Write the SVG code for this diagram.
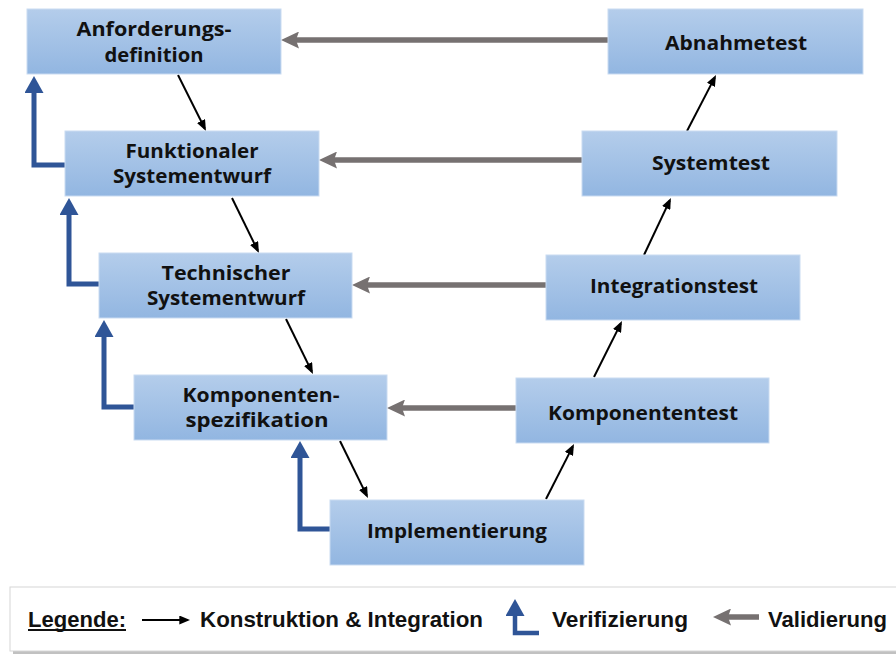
<svg xmlns="http://www.w3.org/2000/svg" width="896" height="655" viewBox="0 0 896 655">
  <defs>
    <linearGradient id="boxFill" x1="0" y1="0" x2="0" y2="1">
      <stop offset="0" stop-color="#b4cdeb"/>
      <stop offset="1" stop-color="#92b6e1"/>
    </linearGradient>
    <marker id="headBlack" viewBox="0 0 11 9" refX="8.2" refY="4.5" markerWidth="11" markerHeight="9" markerUnits="userSpaceOnUse" orient="auto">
      <path d="M0,0 L11,4.5 L0,9 z" fill="#000"/>
    </marker>
    <marker id="headGray" viewBox="0 0 18 17" refX="10" refY="8.5" markerWidth="18" markerHeight="17" markerUnits="userSpaceOnUse" orient="auto">
      <path d="M0,0 L18,8.5 L0,17 L3,8.5 z" fill="#767171"/>
    </marker>
    <marker id="headBlue" viewBox="0 0 17 19" refX="10" refY="9.5" markerWidth="17" markerHeight="19" markerUnits="userSpaceOnUse" orient="auto">
      <path d="M0,0 L17,9.5 L0,19 z" fill="#2f5597"/>
    </marker>
  </defs>
  <style>
    .box { fill: url(#boxFill); stroke: #c9dbf1; stroke-width: 1; }
    .lbl { font-family: "Open Sans", "Noto Sans", sans-serif; font-weight: 700; font-size: 20px; fill: #111; text-anchor: middle; }
    .flow { fill: none; stroke: #000; stroke-width: 2; marker-end: url(#headBlack); }
    .valid { fill: none; stroke: #767171; stroke-width: 5.5; marker-end: url(#headGray); }
    .verif { fill: none; stroke: #2f5597; stroke-width: 5; stroke-linejoin: miter; marker-end: url(#headBlue); }
    .leg { font-family: "Liberation Sans", Arial, sans-serif; font-weight: 700; font-size: 22px; fill: #111; }
  </style>

  <rect width="896" height="655" fill="#fff"/>

  <!-- connectors -->
  <g id="connectors">
    <!-- validation (gray) -->
    <path class="valid" d="M608,40 H289"/>
    <path class="valid" d="M582,160 H327"/>
    <path class="valid" d="M546,285 H360"/>
    <path class="valid" d="M516,408 H395"/>
    <!-- verification (blue) -->
    <path class="verif" d="M65,165 H34 V83"/>
    <path class="verif" d="M99,284 H69 V205"/>
    <path class="verif" d="M134,407 H104 V327"/>
    <path class="verif" d="M330,529 H300 V448"/>
    <!-- construction & integration (black) -->
    <path class="flow" d="M178,75 L204.7,128.4"/>
    <path class="flow" d="M232,198 L257.7,250.4"/>
    <path class="flow" d="M286,319 L311.7,371.4"/>
    <path class="flow" d="M340,441 L366.7,495.4"/>
    <path class="flow" d="M546,499 L572.7,446.6"/>
    <path class="flow" d="M594,377 L620.7,323.6"/>
    <path class="flow" d="M644,255 L669.7,200.6"/>
    <path class="flow" d="M687,131 L714.7,77.6"/>
  </g>

  <!-- left branch: specification -->
  <g id="anforderungsdefinition">
    <rect class="box" x="27" y="9" width="254" height="65"/>
    <text class="lbl" x="154" y="36" textLength="155" lengthAdjust="spacingAndGlyphs">Anforderungs-</text>
    <text class="lbl" x="154" y="62" textLength="99" lengthAdjust="spacingAndGlyphs">definition</text>
  </g>
  <g id="funktionaler-systementwurf">
    <rect class="box" x="65" y="131" width="254" height="65"/>
    <text class="lbl" x="192" y="158" textLength="133" lengthAdjust="spacingAndGlyphs">Funktionaler</text>
    <text class="lbl" x="192" y="183" textLength="158" lengthAdjust="spacingAndGlyphs">Systementwurf</text>
  </g>
  <g id="technischer-systementwurf">
    <rect class="box" x="99" y="253" width="253" height="65"/>
    <text class="lbl" x="226" y="280" textLength="129" lengthAdjust="spacingAndGlyphs">Technischer</text>
    <text class="lbl" x="226" y="305" textLength="158" lengthAdjust="spacingAndGlyphs">Systementwurf</text>
  </g>
  <g id="komponentenspezifikation">
    <rect class="box" x="134" y="375" width="253" height="65"/>
    <text class="lbl" x="261" y="402" textLength="157" lengthAdjust="spacingAndGlyphs">Komponenten-</text>
    <text class="lbl" x="257" y="427" textLength="143" lengthAdjust="spacingAndGlyphs">spezifikation</text>
  </g>
  <g id="implementierung">
    <rect class="box" x="330" y="500" width="254" height="65"/>
    <text class="lbl" x="457" y="538" textLength="180" lengthAdjust="spacingAndGlyphs">Implementierung</text>
  </g>

  <!-- right branch: tests -->
  <g id="komponententest">
    <rect class="box" x="516" y="378" width="253" height="65"/>
    <text class="lbl" x="643" y="420" textLength="190" lengthAdjust="spacingAndGlyphs">Komponententest</text>
  </g>
  <g id="integrationstest">
    <rect class="box" x="546" y="255" width="254" height="65"/>
    <text class="lbl" x="674" y="293" textLength="168" lengthAdjust="spacingAndGlyphs">Integrationstest</text>
  </g>
  <g id="systemtest">
    <rect class="box" x="582" y="131" width="255" height="65"/>
    <text class="lbl" x="711" y="170" textLength="118" lengthAdjust="spacingAndGlyphs">Systemtest</text>
  </g>
  <g id="abnahmetest">
    <rect class="box" x="608" y="9" width="255" height="65"/>
    <text class="lbl" x="736" y="50" textLength="142" lengthAdjust="spacingAndGlyphs">Abnahmetest</text>
  </g>

  <!-- legend -->
  <g id="legend">
    <rect x="13" y="590" width="895" height="64" fill="#a6a6a6" opacity="0.7"/>
    <rect x="10" y="587" width="895" height="64" fill="#fff" stroke="#d6d6d6" stroke-width="1"/>
    <text class="leg" x="28" y="627" textLength="98" lengthAdjust="spacingAndGlyphs">Legende:</text>
    <rect x="28" y="629" width="98" height="2" fill="#111"/>
    <path d="M142,620 H187.5" fill="none" stroke="#000" stroke-width="2" marker-end="url(#headBlack)"/>
    <text class="leg" x="200" y="627" textLength="283" lengthAdjust="spacingAndGlyphs">Konstruktion &amp; Integration</text>
    <path d="M539,633 H515 V606" fill="none" stroke="#2f5597" stroke-width="4.5" marker-end="url(#headBlue)"/>
    <text class="leg" x="552" y="627" textLength="136" lengthAdjust="spacingAndGlyphs">Verifizierung</text>
    <path d="M759,617 H721" fill="none" stroke="#767171" stroke-width="5.5" marker-end="url(#headGray)"/>
    <text class="leg" x="768" y="627" textLength="119" lengthAdjust="spacingAndGlyphs">Validierung</text>
  </g>
</svg>
